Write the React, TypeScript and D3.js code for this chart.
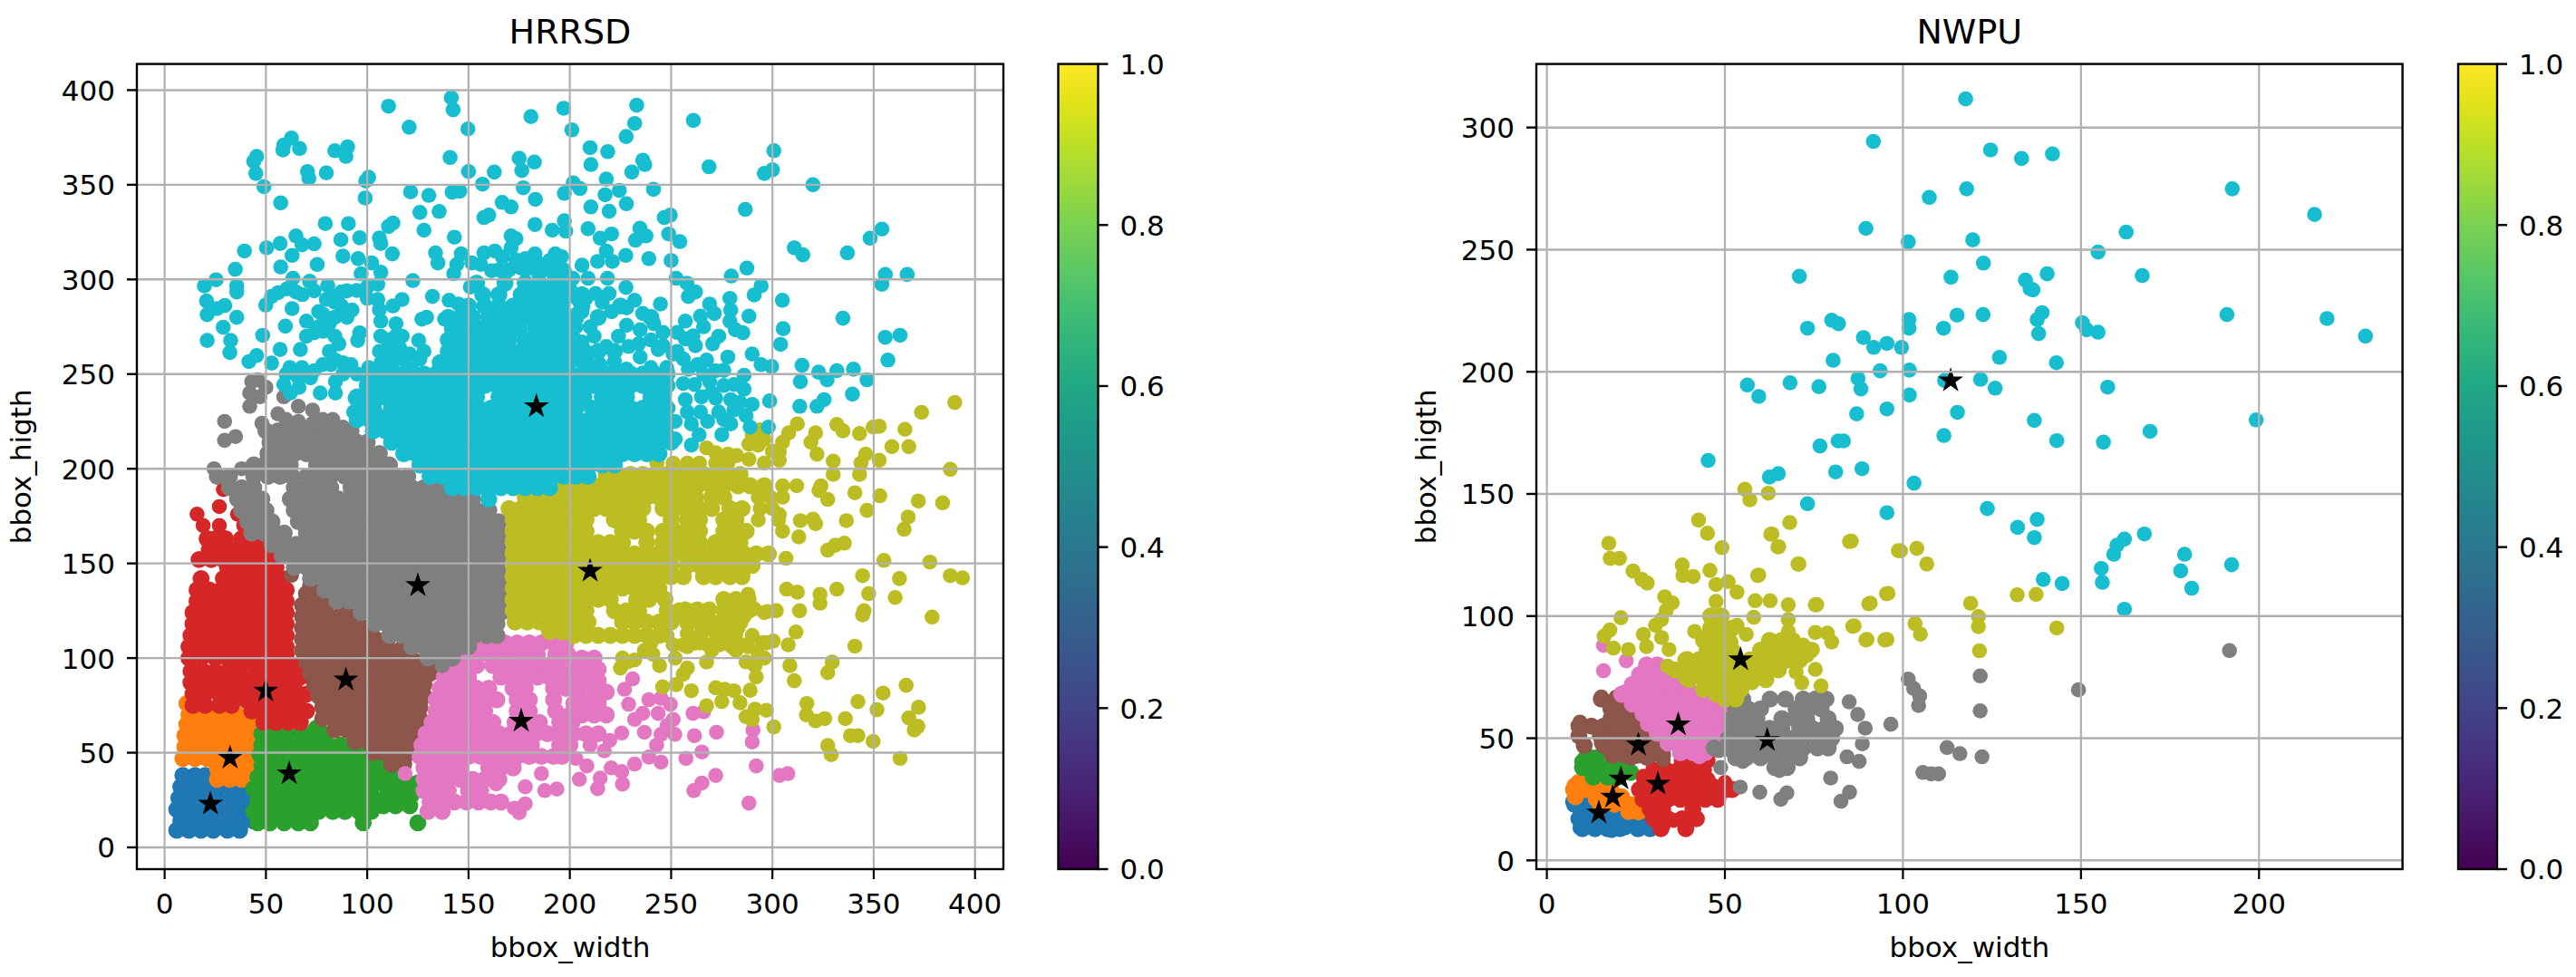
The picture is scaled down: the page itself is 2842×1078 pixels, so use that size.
import React from "react";
import * as d3 from "d3";

type Pt = [number, number];
type Row = [number, number[]];

// dense parts of a cluster are read row by row: [y, [x, x, ...]]
const rows = (r: Row[]): Pt[] => r.flatMap(([y, xs]) => xs.map((x) => [x, y] as Pt));

const tab10 = ["#1f77b4", "#ff7f0e", "#2ca02c", "#d62728", "#8c564b", "#e377c2", "#7f7f7f", "#bcbd22", "#17becf"];

// ---------- HRRSD ----------
const hBlue: Row[] = [
  [9, [6, 12, 18, 24, 31, 37]],
  [14, [8, 14, 20, 27, 33, 39, 44]],
  [20, [6, 12, 19, 25, 32, 38, 43]],
  [26, [7, 13, 20, 26, 33, 39, 43]],
  [32, [8, 14, 20, 27, 33, 38]],
  [38, [9, 15, 20]],
];
const hOrange: Row[] = [
  [36, [26, 32, 38, 43]],
  [42, [26, 32, 38, 44]],
  [47, [9, 15, 21, 27, 33, 39, 45]],
  [53, [10, 16, 22, 28, 34, 40, 46]],
  [59, [10, 16, 22, 28, 34, 40, 47]],
  [65, [11, 17, 23, 29, 35, 40, 44]],
  [70, [12, 18, 24, 30, 36]],
  [76, [11, 15, 19]],
];
const hGreen: Row[] = [
  [13, [46, 52, 59, 66, 72, 98, 125]],
  [19, [44, 50, 57, 63, 70, 76, 83, 89, 96, 102]],
  [22, [108, 114, 121]],
  [25, [46, 52, 59, 65, 72, 78, 85, 91, 98, 104]],
  [28, [110, 116, 122]],
  [31, [44, 50, 57, 63, 70, 76, 83, 89, 96, 102]],
  [34, [108, 114, 120, 125]],
  [37, [46, 52, 59, 65, 72, 78, 85, 91, 98, 104, 110, 115]],
  [43, [48, 54, 60, 67, 73, 80, 86, 93, 99, 105, 110]],
  [49, [47, 53, 60, 66, 73, 79, 86, 92, 98, 103]],
  [54, [48, 55, 61, 68, 74, 81, 87, 92]],
  [60, [48, 54, 60, 67, 73, 78]],
  [63, [75]],
];
const hRed: Row[] = [
  [66, [49, 55, 61, 67]],
  [72, [43, 49, 55, 61, 67, 70]],
  [75, [14, 20, 27, 33]],
  [78, [28, 34, 40, 46, 52, 58, 64, 66]],
  [81, [14, 20, 27, 33, 70]],
  [84, [39, 45, 52, 58, 64]],
  [87, [13, 19, 26, 32]],
  [90, [38, 45, 51, 57, 63, 67]],
  [93, [13, 19, 25, 31]],
  [96, [37, 44, 50, 56, 62, 67]],
  [100, [12, 18, 25, 31]],
  [102, [37, 43, 49, 55, 60]],
  [106, [12, 18, 24, 30, 36, 42, 48, 54, 60]],
  [112, [13, 19, 25, 31, 37, 43, 49, 55, 60]],
  [118, [14, 20, 26, 32, 38, 44, 50, 56, 60]],
  [124, [14, 21, 27, 33, 39, 45, 51, 56, 60]],
  [130, [16, 22, 28, 34, 40, 46, 52, 58, 60]],
  [136, [16, 22, 28, 34, 40, 46, 52, 58, 60]],
  [142, [18, 29, 35, 41, 47, 53, 58]],
  [148, [31, 37, 43, 49, 55]],
  [152, [17, 23, 29, 35, 41, 47, 52]],
  [157, [22, 28, 34, 40, 46, 51]],
  [163, [21, 25, 30, 38, 44, 48]],
];
const hRedSparse: Pt[] = [[19, 170], [27, 170], [39, 170], [16, 176], [36, 176], [27, 180], [29, 189]];
const hBrown: Row[] = [
  [44, [112, 118]],
  [50, [103, 109, 115, 121]],
  [56, [94, 100, 106, 112, 118, 122]],
  [62, [84, 90, 96, 102, 108, 114, 120, 126]],
  [68, [78, 84, 90, 96, 102, 108, 114, 120, 126]],
  [74, [78, 84, 90, 96, 102, 108, 114, 120, 126]],
  [80, [76, 82, 88, 94, 100, 106, 112, 118, 124, 128]],
  [86, [74, 80, 86, 92, 98, 104, 110, 116, 122, 128]],
  [92, [72, 78, 84, 90, 96, 102, 108, 114, 120, 126, 131]],
  [98, [70, 76, 82, 88, 94, 100, 106, 112, 118, 124, 130]],
  [104, [68, 74, 80, 86, 92, 98, 104, 110, 116, 120]],
  [110, [68, 74, 80, 86, 92, 98, 104, 110]],
  [116, [68, 74, 80, 86, 92, 98, 102]],
  [122, [68, 74, 80, 86, 92]],
  [128, [68, 74, 80, 88]],
  [134, [70, 76]],
  [138, [72]],
];
const hBrownSparse: Pt[] = [[62.6, 143.7]];
const hPinkDense: Row[] = [
  [19, [130, 137]],
  [24, [131, 137, 143, 149, 155, 161, 166]],
  [30, [128, 134, 140, 150, 156]],
  [36, [128, 134, 140, 146, 152, 158, 165]],
  [42, [128, 134, 140, 146, 160, 166, 172]],
  [48, [126, 132, 138, 144, 150, 156, 162, 168, 174, 180, 186, 192, 196]],
  [54, [127, 133, 139, 145, 151, 157, 163, 169, 175, 181, 195, 200]],
  [60, [129, 135, 141, 147, 153, 159, 165, 171, 177, 183, 189, 195, 202, 208, 214]],
  [66, [132, 138, 144, 150, 156, 162, 173, 179, 185, 195, 201]],
  [70, [200, 206, 212, 218]],
  [72, [134, 140, 146, 152, 158, 174, 180, 193]],
  [76, [202, 208, 214]],
  [78, [134, 140, 146, 152, 158, 164, 174, 180, 192]],
  [82, [204, 212, 218]],
  [84, [136, 142, 148, 154, 160, 172, 178, 192, 198]],
  [88, [202, 208, 214]],
  [90, [138, 144, 150, 166, 172, 178, 184, 190, 196]],
  [94, [202, 208, 214]],
  [96, [142, 148, 154, 162, 168, 174, 180, 188, 194]],
  [100, [200, 206, 212]],
  [102, [148, 154, 160, 166, 172, 178, 184, 193, 199]],
  [108, [150, 156, 162, 168, 174, 180, 186, 192, 198]],
];
const hPinkSparse: Pt[] = [
  [118.7, 39], [172.6, 20.7], [175, 18.3], [178, 23], [178, 32], [187.6, 30], [193.6, 30.8], [186, 39], [163.6, 33.5],
  [231, 89], [227, 83.5], [229, 75.6], [239, 78], [245, 78.8], [249.6, 75.6], [236, 70.8], [232, 67.6], [243.6, 70.8],
  [251, 67.6], [248, 64.4], [225.6, 60.4], [236.8, 60.8], [245, 59.7], [251.8, 59.7], [219.7, 56.5], [210, 54],
  [242.8, 54], [217, 51], [203, 47], [239, 47.7], [245, 45], [232, 44], [208.4, 43], [220.4, 42], [225.6, 40],
  [204.7, 36], [215, 36.6], [226, 33.4], [213.7, 31], [260.8, 70.8], [266, 71.6], [261.5, 59], [272.4, 60.8],
  [290.4, 62], [290, 55.7], [257.3, 47], [265.2, 50.4], [292, 43], [272, 38], [265.2, 34], [261.2, 30], [288.4, 23.4],
  [303.4, 38], [307.6, 39],
];
const hGrayDense: Row[] = [
  [100, [130, 136, 142]],
  [106, [122, 128, 134, 140, 146, 150]],
  [112, [111, 117, 123, 129, 135, 141, 147, 153, 159, 164]],
  [118, [104, 110, 116, 122, 128, 134, 140, 146, 152, 158, 164]],
  [124, [97, 103, 109, 115, 121, 127, 133, 139, 145, 151, 157, 163, 166]],
  [130, [85, 91, 97, 103, 109, 115, 121, 127, 133, 139, 145, 151, 157, 163, 166]],
  [136, [79, 85, 91, 97, 103, 109, 115, 121, 127, 133, 139, 145, 151, 157, 163, 166]],
  [142, [72, 78, 84, 90, 96, 102, 108, 114, 120, 126, 132, 138, 144, 150, 156, 162, 166]],
  [148, [64, 70, 76, 82, 88, 94, 100, 106, 112, 118, 124, 130, 136, 142, 148, 154, 160, 165]],
  [154, [58, 64, 70, 76, 82, 88, 94, 100, 106, 112, 118, 124, 130, 136, 142, 148, 154, 160, 165]],
  [160, [53, 59, 65, 71, 77, 83, 89, 95, 101, 107, 113, 119, 125, 131, 137, 143, 149, 155, 161, 165]],
  [166, [43, 49, 55, 59, 70, 76, 82, 88, 94, 100, 106, 112, 118, 124, 130, 136, 142, 148, 154, 160, 165]],
  [172, [41, 47, 53, 66, 72, 78, 84, 90, 96, 102, 108, 114, 120, 126, 132, 138, 144, 150, 156, 162, 165]],
  [178, [38, 44, 50, 64, 70, 76, 82, 88, 94, 100, 106, 112, 118, 124, 130, 136, 142, 148, 154, 160]],
  [184, [36, 42, 48, 62, 68, 74, 80, 86, 92, 98, 104, 110, 116, 122, 128, 134, 140, 146, 152]],
  [190, [32, 38, 44, 64, 70, 76, 82, 92, 98, 104, 110, 116, 122, 128, 134, 140]],
  [196, [26, 32, 44, 51, 57, 63, 70, 76, 82, 89, 95, 101, 108, 114, 120]],
  [202, [44, 49, 56, 62, 75, 81, 87, 93, 99, 105, 111]],
  [208, [51, 57, 64, 70, 76, 82, 88, 94, 100, 106]],
  [214, [52, 58, 65, 71, 77, 83, 89, 95, 100]],
  [220, [50, 56, 62, 68, 74, 80, 86, 92]],
];
const hGraySparse: Pt[] = [
  [137, 96], [46, 247], [43, 246], [50, 243], [42, 240], [47, 238], [42, 233], [58.8, 238], [55.9, 229], [66, 233], [73, 231],
  [48, 224], [60, 226], [66, 225], [73, 224], [78, 226], [83, 226], [88, 222], [29.6, 225], [29.6, 215], [35, 217],
  [24.4, 200], [38, 200], [44, 200],
];
const hOliveDense: Row[] = [
  [112, [202, 208, 214, 220, 226, 232, 238, 244]],
  [114, [190, 196]],
  [119, [173, 179, 185, 191, 197, 203, 209, 226, 232, 238, 244, 250, 258, 264, 270, 278, 284]],
  [125, [172, 178, 184, 190, 196, 202, 208, 222, 228, 234, 248, 254, 262, 268, 276, 282, 288]],
  [131, [172, 178, 184, 190, 196, 202, 208, 214, 220, 233, 239, 247, 276, 282, 288]],
  [137, [172, 178, 184, 190, 196, 202, 208, 214, 220, 226, 232, 238, 244]],
  [143, [172, 178, 184, 190, 196, 202, 208, 214, 220, 226, 232, 238, 244, 250, 256, 266, 272, 279, 285]],
  [149, [172, 178, 184, 190, 196, 202, 208, 214, 220, 226, 232, 238, 244, 250, 258, 264, 270, 277, 283, 290]],
  [155, [172, 178, 184, 190, 196, 202, 208, 214, 220, 226, 232, 238, 244, 250, 256, 262, 268, 274, 280, 286, 292, 298]],
  [161, [172, 178, 184, 190, 196, 202, 208, 214, 220, 226, 238, 246, 252, 258, 264, 272, 278, 284]],
  [167, [172, 178, 184, 190, 196, 202, 208, 226, 232, 238, 246, 252, 258, 264, 276, 282, 287]],
  [173, [172, 178, 184, 190, 196, 202, 208, 222, 228, 234, 250, 258, 264, 276, 282]],
  [179, [170, 176, 182, 188, 194, 200, 206, 212, 218, 224, 230, 236, 246, 252, 258, 264, 270, 279, 285]],
  [185, [178, 184, 190, 196, 202, 208, 214, 220, 226, 232, 238, 244, 250, 256, 262, 270, 276]],
  [191, [197, 203, 209, 215, 221, 227, 233, 239, 245, 251, 257, 263, 270, 276, 283, 289, 296]],
  [197, [218, 224, 230, 236, 242, 248, 254, 260, 266, 272, 278, 284]],
];
const hOliveSparse: Pt[] = [
  [305, 191], [312, 191], [324, 191], [330, 197], [343, 197], [293, 173], [303, 173], [294, 179], [300, 179], [293, 185], [299, 185], [305, 185],
  [243, 203], [251, 203], [258, 203], [264, 203], [272, 203], [278, 203], [296, 203],
  [257, 126], [263, 126], [269, 126], [258, 118], [264, 118], [270, 118], [275, 118], [276, 130], [281, 130], [280, 124], [286, 122],
  [283, 116], [291, 126], [296, 124], [256, 107], [262, 108], [268, 107], [274, 107], [280, 106], [285, 107], [295, 108], [296, 100],
  [251, 107], [252, 100], [245, 117], [252, 124], [248, 112], [240, 108], [226, 100], [232, 99], [265, 113], [272, 113], [277, 112],
  [390, 235], [373.6, 229.8], [365.4, 220.8], [367.3, 211.7], [359, 211.7], [352.7, 222.4], [349.7, 222], [343, 218.6],
  [331.8, 223.4], [334.8, 220], [321.3, 219], [319, 214], [312.3, 223.7], [308, 219], [322, 207.7], [330, 204],
  [352.7, 204.5], [346, 207.7], [343.7, 203], [387.8, 199.7], [290, 218], [293.6, 220.5], [296, 215.7], [288.4, 213],
  [293, 212.5], [303.4, 209], [305, 214], [300, 209.3], [303.4, 204.5], [267.5, 211], [272, 208.5], [278, 207.7],
  [282.4, 207], [288.4, 205], [340.7, 187.3], [353, 185.7], [372, 183], [384, 182], [346.7, 178], [367, 174.5],
  [365, 168], [336.5, 172.6], [327.3, 183.8], [323, 188.5], [335.5, 160.7], [331, 159.6], [327.3, 157], [320, 173.4],
  [321.3, 171], [313.8, 172.6], [313, 164], [305, 167], [303.4, 175.8], [306.7, 152.7],
  [355, 151.6], [377.7, 150.7], [344.5, 143.5], [362.7, 142], [387.8, 143.5], [393.8, 142.4], [347.5, 134], [360.6, 132],
  [331.8, 136.4], [323.5, 133.7], [323.5, 129], [307, 136.4], [312.3, 134.8], [313.4, 125], [301.9, 125], [297.4, 124.6],
  [345.2, 125], [344.5, 122.8], [378.8, 121.7], [311.6, 113.8], [307.8, 107], [300.4, 109], [340.7, 106.3], [329.5, 97.9],
  [327.3, 92.3], [308.6, 96], [310.8, 88], [366, 85.6], [354.6, 81.5], [342.2, 77], [351.6, 72.7], [317, 76], [316.8, 70],
  [321.3, 66.8], [325.8, 68], [336, 68], [372.1, 74], [367.3, 68.4], [371.8, 64], [370, 62], [338.5, 59], [342.2, 59],
  [349.7, 56], [327.3, 53.8], [329, 49], [363, 47], [300.7, 63.6], [297, 72.4], [291.4, 73], [290, 67.6], [287, 69],
  [284, 76.4], [281, 82.7], [276.5, 83.5], [272, 84.3], [275, 77], [267.5, 74.8], [260, 82.7], [245.8, 84.8], [252.5, 86],
  [256, 91.5], [258, 94.7], [244.3, 96], [267.5, 97.9], [289, 83], [292, 90], [291.4, 96], [287, 98], [225, 94.7],
  [228.5, 98], [236.8, 104], [241, 102], [258, 106], [264, 108], [270, 104], [276, 108], [282, 104], [288, 106],
  [293, 102], [297, 108], [258, 113], [282, 113], [290, 112], [288, 133.7],
];
const hCyanDense: Row[] = [
  [184, [160]],
  [190, [142, 148, 154, 160, 166, 172, 178, 184, 190]],
  [196, [131, 137, 143, 149, 155, 161, 167, 173, 179, 185, 191, 197, 203, 209]],
  [202, [126, 132, 138, 144, 150, 156, 162, 168, 174, 180, 186, 192, 198, 204, 210, 216, 222]],
  [208, [118, 124, 130, 136, 142, 148, 154, 160, 166, 172, 178, 184, 190, 196, 202, 208, 214, 220, 226, 232, 238, 244]],
  [214, [112, 118, 124, 130, 136, 142, 148, 154, 160, 166, 172, 178, 184, 190, 196, 202, 208, 214, 220, 226, 232, 238, 244, 250]],
  [220, [103, 109, 115, 121, 127, 133, 139, 145, 151, 157, 163, 169, 175, 181, 187, 193, 199, 205, 211, 217, 223, 229, 235, 241, 247]],
  [226, [95, 101, 107, 113, 120, 126, 132, 138, 144, 150, 156, 162, 168, 174, 180, 186, 192, 198, 204, 210, 216, 222, 228, 234, 240, 246]],
  [232, [96, 103, 112, 118, 125, 131, 137, 143, 149, 155, 161, 167, 173, 179, 185, 191, 197, 203, 211, 217, 224, 230, 236, 242, 248]],
  [238, [95, 101, 107, 113, 120, 126, 130, 136, 142, 148, 154, 165, 171, 177, 183, 189, 195, 201, 207, 216, 222, 228, 240, 246]],
  [244, [100, 105, 111, 118, 124, 128, 134, 140, 146, 152, 158, 164, 170, 176, 182, 188, 194, 200, 206, 212, 218, 224, 230, 236, 242, 248]],
  [250, [100, 106, 112, 118, 122, 128, 134, 140, 146, 152, 158, 164, 170, 176, 182, 188, 194, 200, 206, 212, 218, 224, 230, 236, 242, 248]],
  [256, [136, 143, 149, 155, 161, 167, 173, 179, 185, 191, 197]],
  [262, [140, 146, 152, 158, 164, 170, 176, 182, 188, 194, 200, 206, 214, 222]],
  [268, [140, 146, 152, 158, 164, 170, 178, 184, 190, 196, 202]],
  [274, [142, 148, 155, 161, 168, 175, 183, 189, 195, 201]],
  [280, [140, 146, 152, 160, 166, 172, 178, 185, 191, 197, 203, 214, 240]],
  [286, [150, 158, 165, 172, 178, 184, 190, 196, 206, 225]],
  [292, [157, 165, 176, 182, 188, 194, 200, 206]],
  [298, [154, 168, 178, 185, 192, 198]],
  [304, [185, 192, 197]],
];
const hCyanSparse: Pt[] = [
  [86, 266], [82, 255], [88, 250], [56, 293], [68, 292], [84, 291], [90, 294], [100, 290], [100, 296], [84, 288], [76, 283], [70, 278],
  [84, 280], [90, 280], [76, 275], [70, 270], [84, 270], [106, 284], [106, 262], [110, 268], [112, 262], [114, 270], [116, 264],
  [118, 258], [122, 253], [126, 258], [128, 262], [60, 250], [66, 248], [72, 248], [78, 255], [88, 256], [92, 255], [95, 250], [62, 240],
  [178, 305], [178, 311], [184, 309], [190, 310], [196, 312], [197, 305], [156, 308], [165, 305], [170, 305], [176, 306],
  [208, 290], [216, 288], [236, 282], [206, 283], [208, 262], [234, 266], [240, 268], [200, 270], [212, 270], [224, 270], [246, 265],
  [228, 285], [200, 295], [203, 275], [265, 238], [268, 225], [256, 245], [270, 240], [276, 244], [266, 250], [276, 226], [287, 228],
  [258, 230], [253, 272], [262, 265], [253, 262], [256, 258], [263, 255], [276, 252],
  [110.5, 391.5], [120.7, 380.4], [141.5, 396], [142.4, 389.6], [149.7, 379.5], [180.8, 386], [197, 390.4], [140.9, 364.4],
  [150, 357], [162.7, 356.7], [156.9, 350.3], [175, 364], [182.5, 362], [176.3, 357.5], [177, 348.4], [183, 342.3],
  [197.3, 345.5], [166.6, 340.7], [171, 338.3], [157.6, 332.7], [160, 334], [182.8, 329], [191.3, 326], [197.3, 331],
  [198, 325.5], [171, 323], [173.4, 321.5], [62.6, 374.7], [58.8, 371], [58.4, 368.4], [66.6, 369.2], [45.4, 365],
  [44, 362.3], [45, 356], [49, 349], [57.3, 340.4], [70.5, 357], [71.2, 353.5], [79.8, 356.3], [84, 368], [90.3, 370],
  [89.5, 365], [100.7, 354], [99.3, 352], [99, 343], [121.4, 346.3], [130.4, 344.4], [141.9, 346], [145.7, 346.6],
  [126, 335.4], [135.5, 335.9], [128, 326], [143, 322.3], [79.3, 329.5], [90.7, 329.5], [112.7, 329.8], [110.5, 328],
  [64.8, 323], [73.8, 318.8], [67.8, 318.3], [57, 319], [50.3, 316.7], [39.4, 315], [87, 321], [96.3, 322], [106, 321.9],
  [106.7, 319], [62.9, 312.7], [75.3, 307.9], [57.3, 306.6], [88, 312.3], [95.5, 311], [112.4, 313.5], [133.7, 314],
  [134.9, 308.7], [146.4, 313.5], [151.6, 308.7], [144.2, 307.9], [142.7, 303], [157.6, 314], [163, 315], [161.4, 304.6],
  [166.7, 311.9], [173.4, 310.3], [171, 316.7], [182.8, 313.5], [192.8, 313.5], [184.6, 303], [192, 307], [102.2, 308.7],
  [106.7, 303.8], [97, 303], [34.9, 305.4], [25.4, 299.8], [19.6, 296.6], [35.6, 296.6], [35.6, 293.4], [20.7, 288.6],
  [29.7, 286.2], [25.9, 284.6], [21, 281.4], [35.6, 280], [28.9, 274.7], [21, 267.8], [32.6, 267.8], [32.2, 261.4],
  [48.4, 270.5], [59.6, 275.3], [62.9, 284.6], [49.9, 286.5], [122.5, 299.4], [132.2, 291], [140.4, 289], [145, 287],
  [150.9, 296], [52.8, 291], [60.3, 295], [63.3, 300.6], [64.8, 293.4], [71.6, 299], [73.8, 294], [80.5, 296.7], [79.8, 289.4],
  [87.3, 293.4], [94.8, 294.2], [105.2, 297.4], [105.2, 289.4], [112.7, 286], [117.2, 289.4], [92.5, 283.8], [87.3, 286],
  [78.3, 281.4], [81.3, 276.6], [73.8, 271.8], [78.3, 272.6], [96.3, 271.8], [95.3, 267.8], [106.7, 278], [106.7, 270],
  [109.7, 262], [114.2, 276.6], [117.2, 270], [121, 260.6], [125.4, 267.8], [106.7, 255.8], [112.7, 255.8], [100.7, 253.4],
  [127, 279], [129.3, 280], [138.2, 279], [57, 263], [67, 263], [41.6, 256.6], [45.4, 259.8], [81.3, 262], [84.3, 257.4],
  [61.8, 253.4], [52.8, 255.8], [73.8, 251.8], [67.8, 253.4], [58.8, 244.5], [66.3, 243], [84.3, 246], [76.8, 240],
  [84.3, 240], [94, 237.3], [105.2, 244.5], [106.7, 238], [115.7, 244.5], [123.2, 241], [127.7, 249.3], [105.2, 228.5],
  [112.7, 228.5], [93.3, 230], [233, 392], [232, 382.4], [227.8, 375.5], [261, 384], [201, 379], [300.7, 368], [268.7, 359.5],
  [300, 357.9], [296, 356], [320, 350], [286.6, 337], [210, 369.6], [218.7, 367.5], [210.4, 360.7], [236, 363], [237, 360.7],
  [230.6, 356.7], [218, 353], [201.7, 351], [205, 348], [224.4, 347], [217.4, 344.7], [241.3, 347.6], [210.4, 338.3],
  [219.4, 336], [227.9, 340], [249.6, 334], [246.6, 332.7], [248.8, 324], [254.3, 320], [209, 326.8], [220.6, 324],
  [215, 321.8], [234.6, 327], [237.6, 323], [232.4, 320.7], [227.6, 312.7], [218, 315], [239, 311], [250, 310], [206, 307.5],
  [213.7, 309.5], [221, 309.5], [209, 300.6], [201.5, 300.6], [218.6, 300.6], [310.8, 316.7], [315, 313], [337, 314],
  [348.2, 321.8], [354, 326.6], [355.7, 302.6], [366.5, 302.6], [354, 297.4], [279.7, 301.8], [287.4, 306], [252.5, 300.6],
  [257.8, 298], [262, 293.4], [258.5, 291], [294.4, 296.6], [291, 291.8], [304.9, 289], [279, 290], [269, 287], [271.3, 282],
  [288.4, 280.6], [279.4, 283.8], [279, 278], [264.5, 280.6], [257, 278], [266, 275], [334.8, 279.5], [305.3, 274], [304, 265.7],
  [355.7, 269.4], [363, 270.5], [357, 257.4], [285.4, 271.8], [281.7, 273.4], [273.5, 270], [270.5, 266], [257, 268.6],
  [260.8, 270.2], [290, 260.6], [278, 259], [267.5, 257.4], [294.4, 255], [299.6, 254], [314.6, 254.6], [313.8, 246],
  [322.8, 251], [331.8, 251.8], [340, 252.6], [327, 247], [346.7, 247], [339.5, 239.4], [325.5, 236.5], [322, 233], [313.5, 233],
  [298.6, 235.8], [290, 234], [298, 222], [289, 222], [258.5, 252.6], [272, 251.8], [286, 249.4], [261.5, 244.5], [269, 246],
  [281, 244.5], [286, 242], [257, 236.5], [272, 237.3], [279.4, 236.5], [284, 235], [264.5, 230], [273.5, 230], [281, 231],
  [260, 223.7], [279.4, 223.7], [275, 218], [263.8, 218], [252, 225], [252, 215.7], [260, 212.5], [204, 289.4], [203, 281.4],
  [212.7, 292.6], [219.4, 292.6], [227.7, 295.8], [232, 289], [244.7, 287], [220.6, 283], [228, 275.8], [234.7, 273.4],
  [241.4, 276.6], [246, 272], [210, 275], [206, 267], [218, 264.6], [229, 264.6], [243.6, 263], [251, 260.6], [234.7, 259],
  [222, 256.6], [209, 255.8], [203, 257.4], [215, 255], [240, 253.4], [247.8, 253.4], [228, 252.6],
];
const hStars: Pt[] = [
  [22.6, 23], [32.3, 47.3], [61.5, 39], [49.9, 82.7], [89.5, 88.6], [176, 66.8], [125, 138.4], [210, 146], [183.5, 232.9],
];

// ---------- NWPU ----------
const nBlueDense: Row[] = [
  [13, [10, 13.5, 17, 20.5, 25.5, 29]],
  [17, [9, 12.5, 16, 19.5, 23, 26.5, 30]],
  [21, [11, 14.5, 18, 21, 25]],
  [24, [7.5, 14]],
];
const nOrangeDense: Row[] = [
  [20, [25.5, 23]],
  [23, [15, 19, 22.5, 25.5]],
  [26, [8, 15, 18, 21]],
  [29, [7.5, 11, 14.5, 18]],
  [32, [9, 12]],
];
const nGreenDense: Row[] = [
  [34, [13, 17, 20]],
  [36, [23.5]],
  [38, [10, 13.5, 17, 20.5]],
  [42, [11, 14]],
];
const nRedDense: Row[] = [
  [13, [32, 39]],
  [17, [30, 34, 38, 42]],
  [21, [29, 32.5, 41]],
  [25, [27, 30.5, 34, 37.5, 41, 44.5, 48]],
  [29, [26, 29.5, 33, 36.5, 40, 43.5, 47, 50.5, 52]],
  [33, [27.5, 31, 34.5, 38, 41.5, 45]],
  [37, [30, 33.5, 37, 40.5, 44]],
  [41, [38, 41.5, 45]],
];
const nBrownDense: Row[] = [
  [43, [18.5, 22, 25.5, 29, 32.5]],
  [47, [10.5, 16, 19.5, 23, 26.5, 30, 33]],
  [51, [9, 15, 18.5, 22, 25.5, 29]],
  [55, [9, 12.5, 16, 19.5, 23, 26.5, 29]],
  [58, [18, 21.5, 25, 28]],
  [62, [18, 21.5, 25]],
  [66, [15.3, 19.5]],
];
const nPinkDense: Row[] = [
  [44, [37.5, 41, 44.5]],
  [48, [34, 37.5, 41, 44.5, 47.5]],
  [52, [31, 34.5, 38, 41.5, 45, 48]],
  [56, [28.5, 32, 35.5, 39, 42.5, 46, 49]],
  [60, [27, 30.5, 34, 37.5, 41, 44.5, 48, 50]],
  [64, [24, 27.5, 31, 34.5, 38, 41.5, 45, 48]],
  [68, [21, 24.5, 28, 31.5, 35, 38.5, 42]],
  [72, [24, 27.5, 31, 34.5, 38]],
  [76, [26, 29.5, 33, 36]],
  [80, [28, 31]],
];
const nGrayDense: Row[] = [
  [38, [64, 67.5]],
  [42, [53, 56, 60, 64, 67.5, 71]],
  [46, [47, 50.5, 54, 57.5, 61, 65, 68.5, 72, 76, 79]],
  [50, [51, 54.5, 58, 61.5, 65, 69, 72, 76, 80]],
  [54, [52, 55.5, 59, 62.5, 66, 71, 74.5, 78, 81]],
  [58, [52, 55.5, 59, 66, 69.5, 73, 79]],
  [62, [53, 56.5, 60, 70, 73.5, 77]],
  [66, [55, 62.7, 67, 72, 75.4, 78.4]],
];
const nOliveDense: Row[] = [
  [66, [50, 53]],
  [70, [44, 47.5, 51, 54.5]],
  [74, [40, 44, 47.5, 51, 54.5, 58, 61.5]],
  [78, [36, 40, 43.5, 47, 50.5, 54, 58, 61.5, 65]],
  [82, [39, 42.5, 46, 49.5, 53, 57, 60.5, 64, 67.5, 71]],
  [86, [45, 48.5, 52, 60, 63.5, 67, 70.5, 74]],
  [90, [44, 47.5, 51, 62.5, 66, 69]],
  [95, [46, 49, 52]],
  [100, [46, 49]],
];
const nBlue: Pt[] = [
  [7.6, 22.6], [9.3, 13.3], [13.6, 13.3], [18.2, 12.2], [22, 13.3], [25.9, 12.7], [28.8, 15.2], [9.3, 18.3], [13.6, 19.5],
  [17.8, 18.3], [22, 18.3], [25.4, 17], [10.2, 24], [14.4, 23],
];
const nOrange: Pt[] = [
  [7.6, 30.7], [8, 27.6], [11, 32.5], [14.4, 29.4], [13.6, 25], [17.8, 27.6], [21.2, 25.6], [23.7, 23.2], [25.9, 19.5], [25.4, 22.6],
];
const nGreen: Pt[] = [[9.8, 40.5], [12.3, 42.4], [10.6, 38], [14.4, 39.3], [17, 38], [20.4, 36.8], [23.7, 36.2], [18.7, 34.3]];
const nRed: Pt[] = [
  [38.2, 41.2], [41.5, 39.3], [44.5, 40.5], [27.1, 34.4], [32.2, 34.4], [37.3, 35.6], [41.5, 34.4], [26.3, 29.4], [31.4, 28.2],
  [36.5, 29.4], [41.5, 29.4], [46.6, 30.7], [50, 31.9], [51.7, 29.4], [29.7, 23.2], [33.9, 25.7], [40.7, 25], [45.8, 25.7],
  [48.3, 27], [29.7, 18.3], [41.1, 19.5], [35.6, 16.4], [32.6, 14], [39, 14],
];
const nBrown: Pt[] = [
  [15.3, 66.9], [19.5, 66.9], [18.7, 61.6], [23.7, 60.3], [9.3, 56.6], [9.3, 52.9], [12.7, 54.8], [10.6, 47.3], [15.3, 54],
  [19.5, 55.4], [24.6, 55.4], [15.3, 48], [19.5, 49.2], [23.7, 50.4], [28, 48], [32.2, 44.3], [18.7, 43], [23.7, 41.8], [28, 41.8],
  [32.7, 41.2],
];
const nPink: Pt[] = [
  [15.9, 88], [15.9, 77.6], [22.3, 81.7], [28, 78.9], [26.3, 75.2], [30.5, 75.2], [34.8, 73.9], [22, 69], [26.3, 69], [30.5, 69],
  [34.8, 68.4], [39, 70.2], [43.2, 66.5], [48.3, 64], [50.4, 61.6], [28, 62.8], [32.2, 62.8], [37.3, 62.8], [42.4, 60.3], [46.6, 59],
  [29.3, 56.6], [34, 56.6], [39, 56.6], [44, 54], [48.3, 55.4], [34, 50.4], [38.2, 50.4], [43.2, 50.4], [47.9, 50.4], [37.3, 45.5],
  [42.4, 45.5], [46.6, 46.7], [42.8, 42.4],
];
const nGray: Pt[] = [
  [48.8, 38], [84.9, 64.9], [87.3, 59.7], [89.4, 54.1], [96.6, 55.7], [88.6, 47.7], [84.3, 42.4], [87.7, 40.5], [79.7, 33.7],
  [85, 27.9], [82.6, 24.2], [54.3, 30], [59.8, 27.9], [67.4, 27.6], [65.7, 25], [121.7, 75.5], [121.7, 61.2], [149.3, 69.8],
  [191.7, 85.9], [101.5, 74.2], [103, 70.4], [104.7, 67.3], [104.4, 63.4], [112.4, 46.2], [116, 43.7], [122.2, 42.4],
  [107.9, 35.4], [110, 35.4], [105.6, 36], [48.3, 44.9], [55, 40.5], [65.3, 36.8],
];
const nOlive: Pt[] = [
  [17.4, 129.8], [17.8, 123.6], [20.4, 123.6], [24.2, 118.4], [26.7, 115], [28.2, 113.5], [38, 120.9], [38.2, 116.6], [41.1, 116.2],
  [45.8, 118.7], [45.1, 133.9], [49.2, 128], [62.9, 133.5], [64.9, 128.3], [59.2, 116.6], [70.5, 121.3], [85, 130.5], [98.7, 126.8],
  [95.4, 109.1], [90.4, 105], [85.9, 95.8], [89.6, 90.2], [94.9, 90.2], [75.4, 104.6], [75.4, 93.3], [78.8, 93], [80, 89.4],
  [67.8, 104.6], [62.7, 106.3], [58.5, 106.3], [58.1, 99.5], [53.4, 109.8], [50.9, 114.1], [47.5, 112.9], [47.5, 106], [33.1, 107.9],
  [35.2, 105.4], [33.5, 102.3], [32.2, 98.6], [30.5, 96.2], [20.8, 99.3], [17.7, 94.3], [16.1, 91.8], [18.7, 86.9], [22.9, 86.3],
  [27.1, 92.5], [28, 87.5], [32.2, 91.2], [34.3, 86.3], [41.5, 93.7], [39.4, 82.6], [33.9, 79.5], [39, 74.5], [45.8, 99.9],
  [48.3, 99.3], [45.8, 93.7], [48.3, 93.7], [46.2, 87.5], [49.2, 87.5], [51.7, 89.4], [44.1, 91.2], [53.4, 96.2], [56, 92.5],
  [44.1, 82.6], [48.3, 81.3], [44.1, 75.2], [48.3, 73.9], [52.6, 78.9], [52.6, 71.4], [53.4, 66.5], [57.6, 72.7], [58.5, 82.6],
  [61.9, 87.5], [65.3, 90], [67.8, 93.7], [67.8, 98.6], [65.3, 85], [61, 80], [65.3, 78.2], [68.7, 85], [72, 88.1], [74.6, 86.3],
  [73, 83.8], [75.4, 78.2], [70, 77], [71.6, 72.7], [77, 71.4], [42.4, 77.6], [47.5, 67.7],
  [55.6, 151.9], [57, 147.6], [62.2, 150.3], [42.6, 139.3], [68.2, 138.3], [63.2, 133.6], [65.1, 128.4], [85.5, 130.7], [99.3, 126.7],
  [103.9, 127.7], [106.7, 121.3], [70.8, 121.3], [59.5, 116.8], [95.8, 109.3], [90.8, 105.3], [75.8, 104.7], [132.1, 108.7],
  [137.4, 108.9], [119, 105.2], [121.2, 99.8], [121.2, 95.7], [143.2, 95.1], [86.3, 96], [103.4, 96.9], [104.9, 92.6], [89.9, 90.4],
  [95.5, 90.4], [121.5, 85.8],
];
const nCyan: Pt[] = [
  [73.2, 217.8], [80, 221.1], [81.9, 219.7], [101.7, 221.4], [101.7, 217.8], [111.4, 217.8], [115.2, 223.2], [122.5, 223.4],
  [139.1, 224.2], [137.7, 221.4], [138.1, 215.6], [150.4, 220.1], [151.6, 217.2], [154.8, 216.2], [191, 223.4], [219.1, 221.8],
  [229.9, 214.6], [88.9, 214], [91.8, 210], [95.5, 211.6], [99.6, 210], [80.4, 204.7], [93.6, 200.4], [101.8, 200.7], [127.1, 205.9],
  [143.1, 203.7], [56.3, 194.6], [68.3, 195.5], [76.4, 193.9], [87.4, 197.3], [88.2, 193], [59.5, 189.9], [101.8, 190.5],
  [111.7, 196.4], [121.8, 196.9], [125.9, 193.3], [157.5, 193.7], [87, 182.8], [95.5, 184.8], [115.3, 183.4], [136.9, 180.1],
  [199.2, 180.3], [169.4, 175.6], [111.5, 173.9], [143.2, 171.8], [156.3, 171.2], [76.7, 169.6], [81.8, 171.7], [83.3, 171.7],
  [45.3, 163.7], [81.1, 159], [88.5, 160.3], [62.5, 156.9], [65, 158.3], [103.1, 154.4], [73.2, 146], [95.5, 142.3], [123.7, 144],
  [137.7, 139.6], [132.2, 136.3], [136.9, 132.1], [167.8, 133.6], [162.2, 131.5], [160.1, 129], [159.2, 125.3], [179.1, 125.3],
  [178, 118.5], [192.3, 121], [155.7, 119.5], [156, 113.8], [139.4, 115], [144.7, 113.3], [181.1, 111.4], [162.2, 102.8],
  [136.5, 233.5], [117.6, 311.7], [91.7, 294.3], [124.6, 290.8], [133.3, 287.3], [142, 289.2], [192.5, 274.9], [117.9, 274.9],
  [107.4, 271.4], [215.6, 264.4], [89.6, 258.7], [162.7, 257.2], [101.5, 253.2], [119.6, 254], [154.8, 249], [122.6, 244.5],
  [70.9, 239.1], [113.5, 238.7], [167.2, 239.4], [140.5, 240.1], [134.4, 237.5], [135.7, 234],
];
const nStars: Pt[] = [
  [14.6, 19.5], [18.5, 26], [20.8, 33.4], [31.2, 31.3], [25.7, 47.3], [36.9, 55.6], [61.9, 49.2], [54.4, 82.2], [113.4, 196.4],
];

// each cluster: [packed rows, loose points]
const hrrsdClusters: [Row[], Pt[]][] = [
  [hBlue, []],
  [hOrange, []],
  [hGreen, []],
  [hRed, hRedSparse],
  [hBrown, hBrownSparse],
  [hPinkDense, hPinkSparse],
  [hGrayDense, hGraySparse],
  [hOliveDense, hOliveSparse],
  [hCyanDense, hCyanSparse],
];
const nwpuClusters: [Row[], Pt[]][] = [
  [nBlueDense, nBlue],
  [nOrangeDense, nOrange],
  [nGreenDense, nGreen],
  [nRedDense, nRed],
  [nBrownDense, nBrown],
  [nPinkDense, nPink],
  [nGrayDense, nGray],
  [nOliveDense, nOlive],
  [[], nCyan],
];

const hrrsdTicks = [0, 50, 100, 150, 200, 250, 300, 350, 400];
const nwpuXTicks = [0, 50, 100, 150, 200];
const nwpuYTicks = [0, 50, 100, 150, 200, 250, 300];
const barTicks = [0, 0.2, 0.4, 0.6, 0.8, 1];

const FONT = "'DejaVu Sans', sans-serif";
const TICK_FONT = 31;
const TITLE_FONT = 38;
const TOP = 70.6;
const BOTTOM = 959;
const GRID = "#b0b0b0";

const viridisStops = d3.range(0, 1.01, 0.05);

function Panel(props: {
  title: string;
  clusters: [Row[], Pt[]][];
  stars: Pt[];
  left: number;
  right: number;
  xDomain: [number, number];
  yDomain: [number, number];
  xTicks: number[];
  yTicks: number[];
  yLabelX: number;
  barLeft: number;
  barRight: number;
  id: string;
}) {
  const { title, clusters, stars, left, right, xDomain, yDomain, xTicks, yTicks, yLabelX, barLeft, barRight, id } = props;
  const x = d3.scaleLinear().domain(xDomain).range([left, right]);
  const y = d3.scaleLinear().domain(yDomain).range([BOTTOM, TOP]);
  const bar = d3.scaleLinear().domain([0, 1]).range([BOTTOM, TOP]);
  const star = d3.symbol(d3.symbolStar, 240)() as string;
  const mid = (left + right) / 2;

  return (
    <g fontFamily={FONT} fill="#000">
      {clusters.map(([packed, loose], i) => (
        <g key={i} fill={tab10[i]}>
          {rows(packed).map((d, j) => (
            <circle key={j} cx={x(d[0])} cy={y(d[1])} r={9.4} />
          ))}
          {loose.map((d, j) => (
            <circle key={j} cx={x(d[0])} cy={y(d[1])} r={8.3} />
          ))}
        </g>
      ))}
      {stars.map((d, i) => (
        <path key={i} d={star} fill="#000" transform={`translate(${x(d[0])},${y(d[1])})`} />
      ))}
      {xTicks.map((t) => (
        <g key={t}>
          <line x1={x(t)} x2={x(t)} y1={TOP} y2={BOTTOM} stroke={GRID} strokeWidth={2.2} />
          <line x1={x(t)} x2={x(t)} y1={BOTTOM} y2={BOTTOM + 11} stroke="#000" strokeWidth={2.2} />
          <text x={x(t)} y={1008} textAnchor="middle" fontSize={TICK_FONT}>{t}</text>
        </g>
      ))}
      {yTicks.map((t) => (
        <g key={t}>
          <line x1={left} x2={right} y1={y(t)} y2={y(t)} stroke={GRID} strokeWidth={2.4} />
          <line x1={left - 11} x2={left} y1={y(t)} y2={y(t)} stroke="#000" strokeWidth={2.4} />
          <text x={left - 24} y={y(t)} dy="0.37em" textAnchor="end" fontSize={TICK_FONT}>{t}</text>
        </g>
      ))}
      <rect x={left} y={TOP} width={right - left} height={BOTTOM - TOP} fill="none" stroke="#000" strokeWidth={2.4} />
      <text x={mid} y={48} textAnchor="middle" fontSize={TITLE_FONT}>{title}</text>
      <text x={mid} y={1056} textAnchor="middle" fontSize={TICK_FONT}>bbox_width</text>
      <text transform={`translate(${yLabelX},${(TOP + BOTTOM) / 2}) rotate(-90)`} textAnchor="middle" fontSize={TICK_FONT}>bbox_higth</text>

      <defs>
        <linearGradient id={id} x1="0" x2="0" y1="1" y2="0">
          {viridisStops.map((s) => (
            <stop key={s} offset={s} stopColor={d3.interpolateViridis(s)} />
          ))}
        </linearGradient>
      </defs>
      <rect x={barLeft} y={TOP} width={barRight - barLeft} height={BOTTOM - TOP} fill={`url(#${id})`} stroke="#000" strokeWidth={2.4} />
      {barTicks.map((t) => (
        <g key={t}>
          <line x1={barRight} x2={barRight + 11} y1={bar(t)} y2={bar(t)} stroke="#000" strokeWidth={2.4} />
          <text x={barRight + 24} y={bar(t)} dy="0.37em" fontSize={TICK_FONT}>{t.toFixed(1)}</text>
        </g>
      ))}
    </g>
  );
}

export default function App() {
  return (
    <svg
      width={2842}
      height={1078}
      viewBox="0 0 2842 1078"
      style={{ position: "absolute", left: 0, top: 0, display: "block", background: "#fff" }}
    >
      <Panel
        id="barA"
        title="HRRSD"
        clusters={hrrsdClusters}
        stars={hStars}
        left={151}
        right={1107}
        xDomain={[-13.7, 414]}
        yDomain={[-11.5, 413.8]}
        xTicks={hrrsdTicks}
        yTicks={hrrsdTicks}
        yLabelX={34}
        barLeft={1167.5}
        barRight={1211.5}
      />
      <Panel
        id="barB"
        title="NWPU"
        clusters={nwpuClusters}
        stars={nStars}
        left={1695}
        right={2650.6}
        xDomain={[-2.95, 240.3]}
        yDomain={[-3.6, 326]}
        xTicks={nwpuXTicks}
        yTicks={nwpuYTicks}
        yLabelX={1584}
        barLeft={2712}
        barRight={2755}
      />
    </svg>
  );
}
